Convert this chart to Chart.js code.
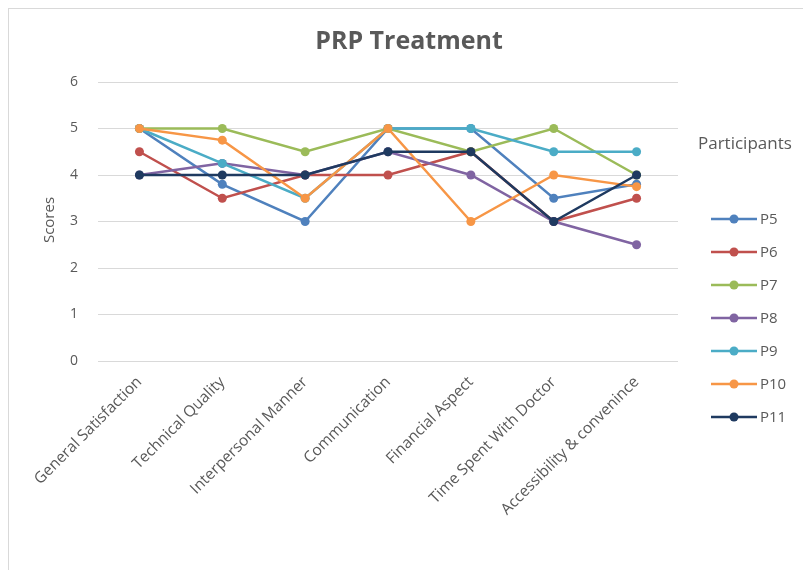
<!DOCTYPE html>
<html>
<head>
<meta charset="utf-8">
<script src="https://cdn.jsdelivr.net/npm/chart.js@4/dist/chart.umd.min.js"></script>
<style>
  html, body { margin: 0; padding: 0; background: #ffffff; }
  #wrap { position: relative; width: 803px; height: 570px; }
</style>
</head>
<body>
<div id="wrap"><canvas id="c" width="803" height="570"></canvas></div>
<script>
// Survey dimensions rated by each participant
const categories = [
  "General Satisfaction",
  "Technical Quality",
  "Interpersonal Manner",
  "Communication",
  "Financial Aspect",
  "Time Spent With Doctor",
  "Accessibility & convenince"
];

// Scores per participant
const p5  = [5,   3.8,  3,   5,   5,   3.5, 3.8];
const p6  = [4.5, 3.5,  4,   4,   4.5, 3,   3.5];
const p7  = [5,   5,    4.5, 5,   4.5, 5,   4];
const p8  = [4,   4.25, 4,   4.5, 4,   3,   2.5];
const p9  = [5,   4.25, 3.5, 5,   5,   4.5, 4.5];
const p10 = [5,   4.75, 3.5, 5,   3,   4,   3.75];
const p11 = [4,   4,    4,   4.5, 4.5, 3,   4];

const seriesNames = ["P5", "P6", "P7", "P8", "P9", "P10", "P11"];
const seriesData  = [p5, p6, p7, p8, p9, p10, p11];
const seriesColors = ["#4F81BD", "#C0504D", "#9BBB59", "#8064A2", "#4BACC6", "#F79646", "#1F3A60"];

const yTicks = [0, 1, 2, 3, 4, 5, 6];

const FONT = "'Open Sans', 'Liberation Sans', sans-serif";
const TEXT = "#595959";

// later participants are painted over earlier ones
const datasets = seriesNames.map((name, i) => ({
  label: name,
  data: seriesData[i],
  order: seriesNames.length - 1 - i,
  borderColor: seriesColors[i],
  backgroundColor: seriesColors[i],
  pointBackgroundColor: seriesColors[i],
  pointBorderColor: seriesColors[i],
  borderWidth: 2.5,
  pointRadius: 4.5,
  pointBorderWidth: 0,
  tension: 0,
  fill: false
}));

// Frame, title, axis title and legend drawn around the plot
const decorations = {
  id: "decorations",
  beforeDraw(chart) {
    const ctx = chart.ctx;
    ctx.save();
    ctx.fillStyle = "#ffffff";
    ctx.fillRect(0, 0, chart.width, chart.height);
    ctx.strokeStyle = "#d9d9d9";
    ctx.lineWidth = 1;
    ctx.strokeRect(8.5, 8.5, 820, 600);
    ctx.restore();
  },
  afterDraw(chart) {
    const ctx = chart.ctx;
    ctx.save();
    // chart title
    ctx.fillStyle = TEXT;
    ctx.font = "bold 25px " + FONT;
    ctx.textAlign = "center";
    ctx.textBaseline = "middle";
    ctx.fillText("PRP Treatment", 409, 42);

    // y axis title
    ctx.save();
    ctx.translate(50, 220);
    ctx.rotate(-Math.PI / 2);
    ctx.font = "15px " + FONT;
    ctx.fillText("Scores", 0, 0);
    ctx.restore();

    // legend
    ctx.textAlign = "left";
    ctx.font = "17px " + FONT;
    ctx.fillText("Participants", 698, 144);
    ctx.font = "15px " + FONT;
    chart.data.datasets.forEach((ds, i) => {
      const y = 219 + i * 33;
      ctx.strokeStyle = ds.borderColor;
      ctx.lineWidth = 2.5;
      ctx.beginPath();
      ctx.moveTo(711, y);
      ctx.lineTo(757, y);
      ctx.stroke();
      ctx.fillStyle = ds.borderColor;
      ctx.beginPath();
      ctx.arc(734, y, 4.5, 0, Math.PI * 2);
      ctx.fill();
      ctx.fillStyle = TEXT;
      ctx.fillText(ds.label, 760, y + 1);
    });
    ctx.restore();
  }
};

new Chart(document.getElementById("c"), {
  type: "line",
  data: { labels: categories, datasets: datasets },
  plugins: [decorations],
  options: {
    responsive: false,
    animation: false,
    devicePixelRatio: 1,
    layout: { padding: { top: 82, right: 125, left: 0, bottom: 0 } },
    plugins: {
      legend: { display: false },
      title: { display: false },
      tooltip: { enabled: false }
    },
    scales: {
      x: {
        type: "category",
        offset: true,
        grid: { display: false, drawTicks: false },
        border: { display: false },
        ticks: {
          color: TEXT,
          font: { family: FONT, size: 15.5 },
          minRotation: 45,
          maxRotation: 45,
          padding: 12,
          autoSkip: false
        },
        afterFit(scale) { scale.height = 209; }
      },
      y: {
        min: 0,
        max: 6,
        afterBuildTicks(scale) { scale.ticks = yTicks.map(v => ({ value: v })); },
        grid: { color: "#d9d9d9", lineWidth: 1, drawTicks: false },
        border: { display: false },
        ticks: {
          color: TEXT,
          font: { family: FONT, size: 14 },
          padding: 20
        },
        afterFit(scale) { scale.width = 98; }
      }
    }
  }
});
</script>
</body>
</html>
